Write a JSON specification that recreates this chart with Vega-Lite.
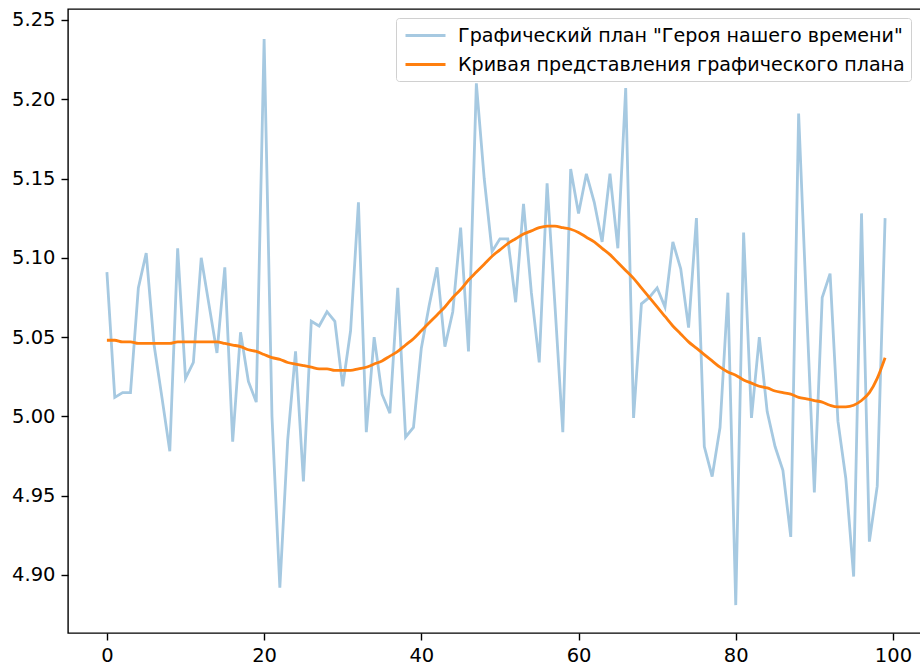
{
  "$schema": "https://vega.github.io/schema/vega-lite/v6.json",
  "autosize": "none",
  "width": 856,
  "height": 624,
  "padding": {"left": 68, "top": 9, "right": 0, "bottom": 33},
  "background": "white",
  "config": {
    "font": "DejaVu Sans",
    "view": {"stroke": "#000000", "strokeWidth": 1.4},
    "axis": {
      "domain": false,
      "grid": false,
      "ticks": true,
      "tickColor": "#000000",
      "tickWidth": 1.4,
      "tickSize": 7,
      "labelFont": "DejaVu Sans",
      "labelFontSize": 19.5,
      "labelColor": "#000000",
      "labelPadding": 6,
      "title": null
    }
  },
  "data": {
    "values": [
      {"x": 0, "plan": 5.091, "curve": 5.048},
      {"x": 1, "plan": 5.012, "curve": 5.048},
      {"x": 2, "plan": 5.015, "curve": 5.047},
      {"x": 3, "plan": 5.015, "curve": 5.047},
      {"x": 4, "plan": 5.081, "curve": 5.046},
      {"x": 5, "plan": 5.103, "curve": 5.046},
      {"x": 6, "plan": 5.045, "curve": 5.046},
      {"x": 7, "plan": 5.012, "curve": 5.046},
      {"x": 8, "plan": 4.978, "curve": 5.046},
      {"x": 9, "plan": 5.106, "curve": 5.047},
      {"x": 10, "plan": 5.024, "curve": 5.047},
      {"x": 11, "plan": 5.034, "curve": 5.047},
      {"x": 12, "plan": 5.100, "curve": 5.047},
      {"x": 13, "plan": 5.070, "curve": 5.047},
      {"x": 14, "plan": 5.040, "curve": 5.047},
      {"x": 15, "plan": 5.094, "curve": 5.046},
      {"x": 16, "plan": 4.984, "curve": 5.045},
      {"x": 17, "plan": 5.053, "curve": 5.044},
      {"x": 18, "plan": 5.022, "curve": 5.042},
      {"x": 19, "plan": 5.009, "curve": 5.041},
      {"x": 20, "plan": 5.238, "curve": 5.039},
      {"x": 21, "plan": 5.000, "curve": 5.037},
      {"x": 22, "plan": 4.892, "curve": 5.036},
      {"x": 23, "plan": 4.985, "curve": 5.034},
      {"x": 24, "plan": 5.041, "curve": 5.033},
      {"x": 25, "plan": 4.959, "curve": 5.032},
      {"x": 26, "plan": 5.060, "curve": 5.031},
      {"x": 27, "plan": 5.057, "curve": 5.030},
      {"x": 28, "plan": 5.066, "curve": 5.030},
      {"x": 29, "plan": 5.060, "curve": 5.029},
      {"x": 30, "plan": 5.019, "curve": 5.029},
      {"x": 31, "plan": 5.054, "curve": 5.029},
      {"x": 32, "plan": 5.135, "curve": 5.030},
      {"x": 33, "plan": 4.990, "curve": 5.031},
      {"x": 34, "plan": 5.050, "curve": 5.033},
      {"x": 35, "plan": 5.014, "curve": 5.035},
      {"x": 36, "plan": 5.002, "curve": 5.038},
      {"x": 37, "plan": 5.081, "curve": 5.041},
      {"x": 38, "plan": 4.987, "curve": 5.045},
      {"x": 39, "plan": 4.993, "curve": 5.049},
      {"x": 40, "plan": 5.043, "curve": 5.054},
      {"x": 41, "plan": 5.070, "curve": 5.059},
      {"x": 42, "plan": 5.094, "curve": 5.064},
      {"x": 43, "plan": 5.044, "curve": 5.069},
      {"x": 44, "plan": 5.066, "curve": 5.075},
      {"x": 45, "plan": 5.119, "curve": 5.080},
      {"x": 46, "plan": 5.041, "curve": 5.086},
      {"x": 47, "plan": 5.210, "curve": 5.091},
      {"x": 48, "plan": 5.150, "curve": 5.096},
      {"x": 49, "plan": 5.104, "curve": 5.101},
      {"x": 50, "plan": 5.112, "curve": 5.105},
      {"x": 51, "plan": 5.112, "curve": 5.109},
      {"x": 52, "plan": 5.072, "curve": 5.112},
      {"x": 53, "plan": 5.134, "curve": 5.115},
      {"x": 54, "plan": 5.078, "curve": 5.117},
      {"x": 55, "plan": 5.034, "curve": 5.119},
      {"x": 56, "plan": 5.147, "curve": 5.120},
      {"x": 57, "plan": 5.070, "curve": 5.120},
      {"x": 58, "plan": 4.990, "curve": 5.119},
      {"x": 59, "plan": 5.156, "curve": 5.118},
      {"x": 60, "plan": 5.128, "curve": 5.116},
      {"x": 61, "plan": 5.153, "curve": 5.113},
      {"x": 62, "plan": 5.135, "curve": 5.110},
      {"x": 63, "plan": 5.110, "curve": 5.106},
      {"x": 64, "plan": 5.153, "curve": 5.102},
      {"x": 65, "plan": 5.106, "curve": 5.097},
      {"x": 66, "plan": 5.207, "curve": 5.092},
      {"x": 67, "plan": 4.999, "curve": 5.087},
      {"x": 68, "plan": 5.071, "curve": 5.081},
      {"x": 69, "plan": 5.075, "curve": 5.075},
      {"x": 70, "plan": 5.081, "curve": 5.069},
      {"x": 71, "plan": 5.069, "curve": 5.063},
      {"x": 72, "plan": 5.110, "curve": 5.057},
      {"x": 73, "plan": 5.093, "curve": 5.052},
      {"x": 74, "plan": 5.056, "curve": 5.047},
      {"x": 75, "plan": 5.125, "curve": 5.043},
      {"x": 76, "plan": 4.981, "curve": 5.039},
      {"x": 77, "plan": 4.962, "curve": 5.035},
      {"x": 78, "plan": 4.993, "curve": 5.031},
      {"x": 79, "plan": 5.078, "curve": 5.028},
      {"x": 80, "plan": 4.881, "curve": 5.026},
      {"x": 81, "plan": 5.116, "curve": 5.023},
      {"x": 82, "plan": 4.999, "curve": 5.021},
      {"x": 83, "plan": 5.050, "curve": 5.019},
      {"x": 84, "plan": 5.003, "curve": 5.018},
      {"x": 85, "plan": 4.981, "curve": 5.016},
      {"x": 86, "plan": 4.966, "curve": 5.015},
      {"x": 87, "plan": 4.924, "curve": 5.014},
      {"x": 88, "plan": 5.191, "curve": 5.012},
      {"x": 89, "plan": 5.070, "curve": 5.011},
      {"x": 90, "plan": 4.952, "curve": 5.010},
      {"x": 91, "plan": 5.075, "curve": 5.009},
      {"x": 92, "plan": 5.090, "curve": 5.007},
      {"x": 93, "plan": 4.997, "curve": 5.006},
      {"x": 94, "plan": 4.961, "curve": 5.006},
      {"x": 95, "plan": 4.899, "curve": 5.007},
      {"x": 96, "plan": 5.128, "curve": 5.010},
      {"x": 97, "plan": 4.921, "curve": 5.015},
      {"x": 98, "plan": 4.956, "curve": 5.024},
      {"x": 99, "plan": 5.125, "curve": 5.037}
    ]
  },
  "encoding": {
    "x": {
      "field": "x",
      "type": "quantitative",
      "scale": {"domain": [-4.95, 103.95], "nice": false, "zero": false},
      "axis": {"values": [0, 20, 40, 60, 80, 100], "format": "d"}
    }
  },
  "layer": [
    {
      "mark": {"type": "line", "strokeWidth": 2.8, "clip": true},
      "encoding": {
        "y": {
          "field": "plan",
          "type": "quantitative",
          "scale": {"domain": [4.8634, 5.2569], "nice": false, "zero": false},
          "axis": {"values": [4.90, 4.95, 5.00, 5.05, 5.10, 5.15, 5.20, 5.25], "format": ".2f"}
        },
        "color": {
          "datum": "Графический план \"Героя нашего времени\"",
          "type": "nominal",
          "scale": {
            "domain": ["Графический план \"Героя нашего времени\"", "Кривая представления графического плана"],
            "range": ["#a6c9e1", "#ff7f0e"]
          },
          "legend": {
            "title": null,
            "orient": "none",
            "legendX": 328,
            "legendY": 9,
            "symbolType": "M-2,0H2",
            "symbolSize": 400,
            "symbolOffset": 12,
            "symbolStrokeWidth": 2.8,
            "labelFont": "DejaVu Sans",
            "labelFontSize": 19.1,
            "labelColor": "#000000",
            "labelLimit": 700,
            "labelOffset": 21,
            "rowPadding": 7,
            "padding": 6,
            "fillColor": "white",
            "strokeColor": "#d0d0d0",
            "cornerRadius": 3
          }
        }
      }
    },
    {
      "mark": {"type": "line", "strokeWidth": 2.8, "clip": true, "interpolate": "monotone"},
      "encoding": {
        "y": {"field": "curve", "type": "quantitative"},
        "color": {"datum": "Кривая представления графического плана", "type": "nominal"}
      }
    }
  ]
}
